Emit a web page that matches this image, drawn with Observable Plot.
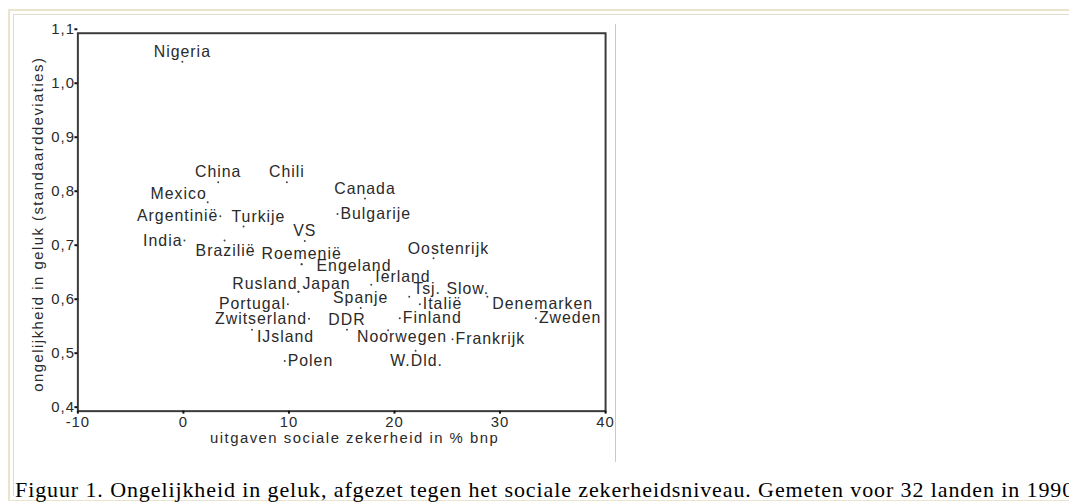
<!DOCTYPE html>
<html>
<head>
<meta charset="utf-8">
<script src="https://cdn.jsdelivr.net/npm/d3@7"></script>
<script src="https://cdn.jsdelivr.net/npm/@observablehq/plot@0.6"></script>
<style>
  body { margin: 0; background: #fff; }
  #wrap { position: relative; width: 1069px; height: 503px; overflow: hidden; background: #fff; }
  #chart { position: absolute; left: 0; top: 0; width: 615px; height: 470px; overflow: hidden; }
  #chart svg { letter-spacing: 1px; }
  #chart svg .axis-title text { letter-spacing: 1.5px; }
  #caption { position: absolute; left: 15px; top: 477px; white-space: nowrap; letter-spacing: 0.9px;
             font-family: "Liberation Serif", "Times New Roman", serif; font-size: 22px; line-height: 26px; color: #000; }
</style>
</head>
<body>
<div id="wrap">
  <div style="position:absolute;left:8px;top:9px;right:-5px;bottom:2px;border-top:2px solid #ebe4cd;border-left:2px solid #ebe4cd;border-bottom:1px solid #ebe4cd"></div>
  <div style="position:absolute;left:13px;top:14px;right:0;height:0;border-top:1px solid #dedbd0"></div>
  <div style="position:absolute;left:13px;top:14px;width:0;height:482px;border-left:1px solid #dedbd0"></div>
  <div id="chart"></div>
  <div style="position:absolute;left:615px;top:24px;width:1px;height:438px;background:#c9c9c9"></div>
  <div id="caption"></div>
</div>
<script>
// ---- data ----
const countries = ["Nigeria","China","Chili","Canada","Mexico","Bulgarije","Argentinië","Turkije","India","Brazilië","VS","Oostenrijk","Roemenië","Engeland","Ierland","Rusland","Japan","Tsj. Slow.","Spanje","Italië","Denemarken","Portugal","Zwitserland","DDR","Finland","Zweden","IJsland","Noorwegen","Frankrijk","Polen","W.Dld."];
const spending   = [-0.1, 3.3, 9.8, 17.2, 2.3, 14.6, 3.5, 5.7, 0.1, 3.9, 11.5, 23.7, 11.2, 11.2, 17.8, 10.9, 10.9, 21.4, 16.8, 22.4, 28.8, 9.9, 11.9, 15.5, 20.5, 33.4, 6.5, 19.4, 25.5, 9.6, 22.0];
const inequality = [1.047, 0.824, 0.824, 0.794, 0.787, 0.765, 0.761, 0.742, 0.716, 0.716, 0.715, 0.683, 0.672, 0.672, 0.634, 0.621, 0.621, 0.612, 0.591, 0.598, 0.612, 0.598, 0.571, 0.551, 0.572, 0.572, 0.551, 0.550, 0.533, 0.493, 0.512];
const xTicks = [-10, 0, 10, 20, 30, 40];
const yTicks = [0.4, 0.5, 0.6, 0.7, 0.8, 0.9, 1.0, 1.1];
const xTitle = "uitgaven sociale zekerheid in % bnp";
const yTitle = "ongelijkheid in geluk (standaarddeviaties)";
const captionText = "Figuur 1. Ongelijkheid in geluk, afgezet tegen het sociale zekerheidsniveau. Gemeten voor 32 landen in 1990";

// ---- label placement (style) ----
const labelPlace = ["N","N","N","N","NW","E","W","NR","W","S","N","NR","N","EF","NE","NW","NE","NE","N","E","SE","W","W","N","E","E","SE","SR","E","E","S"];
const place = {
  N:  {textAnchor: "middle", dx: 0,  dy: -10},
  NR: {textAnchor: "middle", dx: 15, dy: -10},
  S:  {textAnchor: "middle", dx: 1,  dy: 10},
  SR: {textAnchor: "middle", dx: 14, dy: 7},
  E:  {textAnchor: "start",  dx: 3,  dy: 0},
  EF: {textAnchor: "start",  dx: 15, dy: 2},
  W:  {textAnchor: "end",    dx: -2, dy: 0},
  NE: {textAnchor: "start",  dx: 4,  dy: -8},
  NW: {textAnchor: "end",    dx: -1, dy: -8},
  SE: {textAnchor: "start",  dx: 5,  dy: 7}
};

const data = countries.map((c, i) => ({country: c, x: spending[i], y: inequality[i], pos: labelPlace[i]}));
const fmtY = d => d.toFixed(1).replace(".", ",");
const fmtX = d => String(d);

const labelMarks = Object.entries(place).map(([code, opt]) =>
  Plot.text(data.filter(d => d.pos === code), {
    x: "x", y: "y", text: "country", fill: "#2a2a2a", fontSize: 16, ...opt
  })
);

const chart = Plot.plot({
  width: 620,
  height: 460,
  marginLeft: 78,
  marginRight: 10,
  marginTop: 33,
  marginBottom: 46,
  style: {fontFamily: "'Liberation Sans', Arial, sans-serif", background: "transparent", color: "#2a2a2a"},
  x: {domain: [-10, 40]},
  y: {domain: [0.4, 1.1]},
  marks: [
    Plot.frame({stroke: "#3a3a3a", strokeWidth: 2}),
    Plot.axisX({ticks: xTicks, tickSize: 3, tickPadding: 2, strokeWidth: 2, stroke: "#111", fontSize: 15, label: null, tickFormat: fmtX}),
    Plot.axisY({ticks: yTicks, tickSize: 3, tickPadding: 0, strokeWidth: 2, stroke: "#111", fontSize: 15, label: null, tickFormat: fmtY, dy: -4}),
    Plot.text([xTitle], {frameAnchor: "bottom", textAnchor: "middle", dx: 13, dy: 27, fontSize: 15, fill: "#2a2a2a", lineAnchor: "middle", className: "axis-title"}),
    Plot.text([yTitle], {frameAnchor: "left", textAnchor: "middle", rotate: -90, dx: -40, dy: 2, fontSize: 15, fill: "#2a2a2a", lineAnchor: "middle", className: "axis-title"}),
    Plot.dot(data, {x: "x", y: "y", r: 1, fill: "#444", stroke: null}),
    ...labelMarks
  ]
});
document.getElementById("chart").appendChild(chart);
document.getElementById("caption").textContent = captionText;
</script>
</body>
</html>
